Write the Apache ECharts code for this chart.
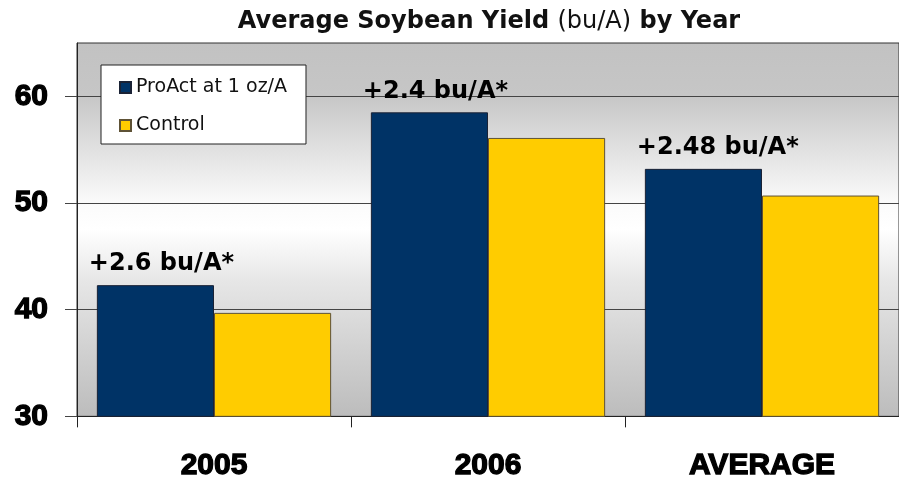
<!DOCTYPE html>
<html>
<head>
<meta charset="utf-8">
<script src="https://cdn.jsdelivr.net/npm/echarts@6/dist/echarts.min.js"></script>
<style>
html,body{margin:0;padding:0;background:#fff;}
#chart{width:899px;height:481px;}
</style>
</head>
<body>
<div id="chart"></div>
<script>
var categories = ['2005', '2006', 'AVERAGE'];
var proActValues = [42.3, 58.5, 53.2];
var controlValues = [39.7, 56.1, 50.7];
var annotations = ['+2.6 bu/A*', '+2.4 bu/A*', '+2.48 bu/A*'];
var seriesNames = ['ProAct at 1 oz/A', 'Control'];
var yTicks = [30, 40, 50, 60];

var chart = echarts.init(document.getElementById('chart'));
var option = {
  animation: false,
  backgroundColor: '#ffffff',
  title: {
    left: 484,
    textAlign: 'center',
    top: 5,
    text: '{b|Average Soybean Yield }{n|(bu/A)}{b| by Year}',
    textStyle: {
      rich: {
        b: { fontFamily: 'DejaVu Sans', fontWeight: 'bold', fontSize: 24, color: '#111' },
        n: { fontFamily: 'DejaVu Sans', fontWeight: 'normal', fontSize: 24, color: '#111' }
      }
    }
  },
  legend: {
    orient: 'vertical',
    left: 101,
    top: 65,
    padding: [13, 19, 9, 18],
    itemGap: 19,
    itemWidth: 11,
    itemHeight: 11,
    icon: 'rect',
    backgroundColor: '#ffffff',
    borderColor: '#222',
    borderWidth: 1,
    borderRadius: 0,
    textStyle: { fontFamily: 'DejaVu Sans', fontSize: 19, color: '#111' },
    data: seriesNames
  },
  grid: {
    left: 77,
    right: 0,
    top: 43,
    bottom: 61,
    show: true,
    borderColor: '#333',
    borderWidth: 1,
    backgroundColor: new echarts.graphic.LinearGradient(0, 0, 0, 1, [
      { offset: 0, color: '#c2c2c2' },
      { offset: 0.14, color: '#c6c6c6' },
      { offset: 0.43, color: '#fbfbfb' },
      { offset: 0.5, color: '#ffffff' },
      { offset: 0.64, color: '#e6e6e6' },
      { offset: 1, color: '#bcbcbc' }
    ])
  },
  xAxis: {
    type: 'category',
    data: categories,
    boundaryGap: true,
    axisLine: { show: true, lineStyle: { color: '#222', width: 1 } },
    axisTick: { show: true, length: 11, lineStyle: { color: '#222' } },
    axisLabel: {
      margin: 34,
      fontFamily: 'Liberation Sans',
      fontWeight: 'bold',
      fontSize: 30,
      color: '#000',
      textBorderColor: '#000',
      textBorderWidth: 1.3
    }
  },
  yAxis: {
    type: 'value',
    min: 30,
    max: 65,
    interval: 10,
    axisLine: { show: true, lineStyle: { color: '#222', width: 1 } },
    axisTick: { show: true, length: 12, customValues: yTicks, lineStyle: { color: '#444' } },
    splitLine: { show: true, lineStyle: { color: '#444', width: 1 } },
    axisLabel: {
      margin: 29,
      customValues: yTicks,
      fontFamily: 'Liberation Sans',
      fontWeight: 'bold',
      fontSize: 30,
      color: '#000',
      textBorderColor: '#000',
      textBorderWidth: 1.3
    }
  },
  series: [
    {
      name: seriesNames[0],
      type: 'bar',
      data: proActValues,
      barGap: '0%',
      barCategoryGap: '14.5%',
      itemStyle: { color: '#003366', borderColor: '#1a2235', borderWidth: 1 },
      label: {
        show: true,
        position: [-8, -9],
        align: 'left',
        verticalAlign: 'bottom',
        fontFamily: 'DejaVu Sans',
        fontWeight: 'bold',
        fontSize: 24,
        color: '#000',
        formatter: function (p) { return annotations[p.dataIndex]; }
      }
    },
    {
      name: seriesNames[1],
      type: 'bar',
      data: controlValues,
      barGap: '0%',
      barCategoryGap: '14.5%',
      itemStyle: { color: '#ffcc00', borderColor: '#5e5236', borderWidth: 1 }
    }
  ]
};
chart.setOption(option);
</script>
</body>
</html>
